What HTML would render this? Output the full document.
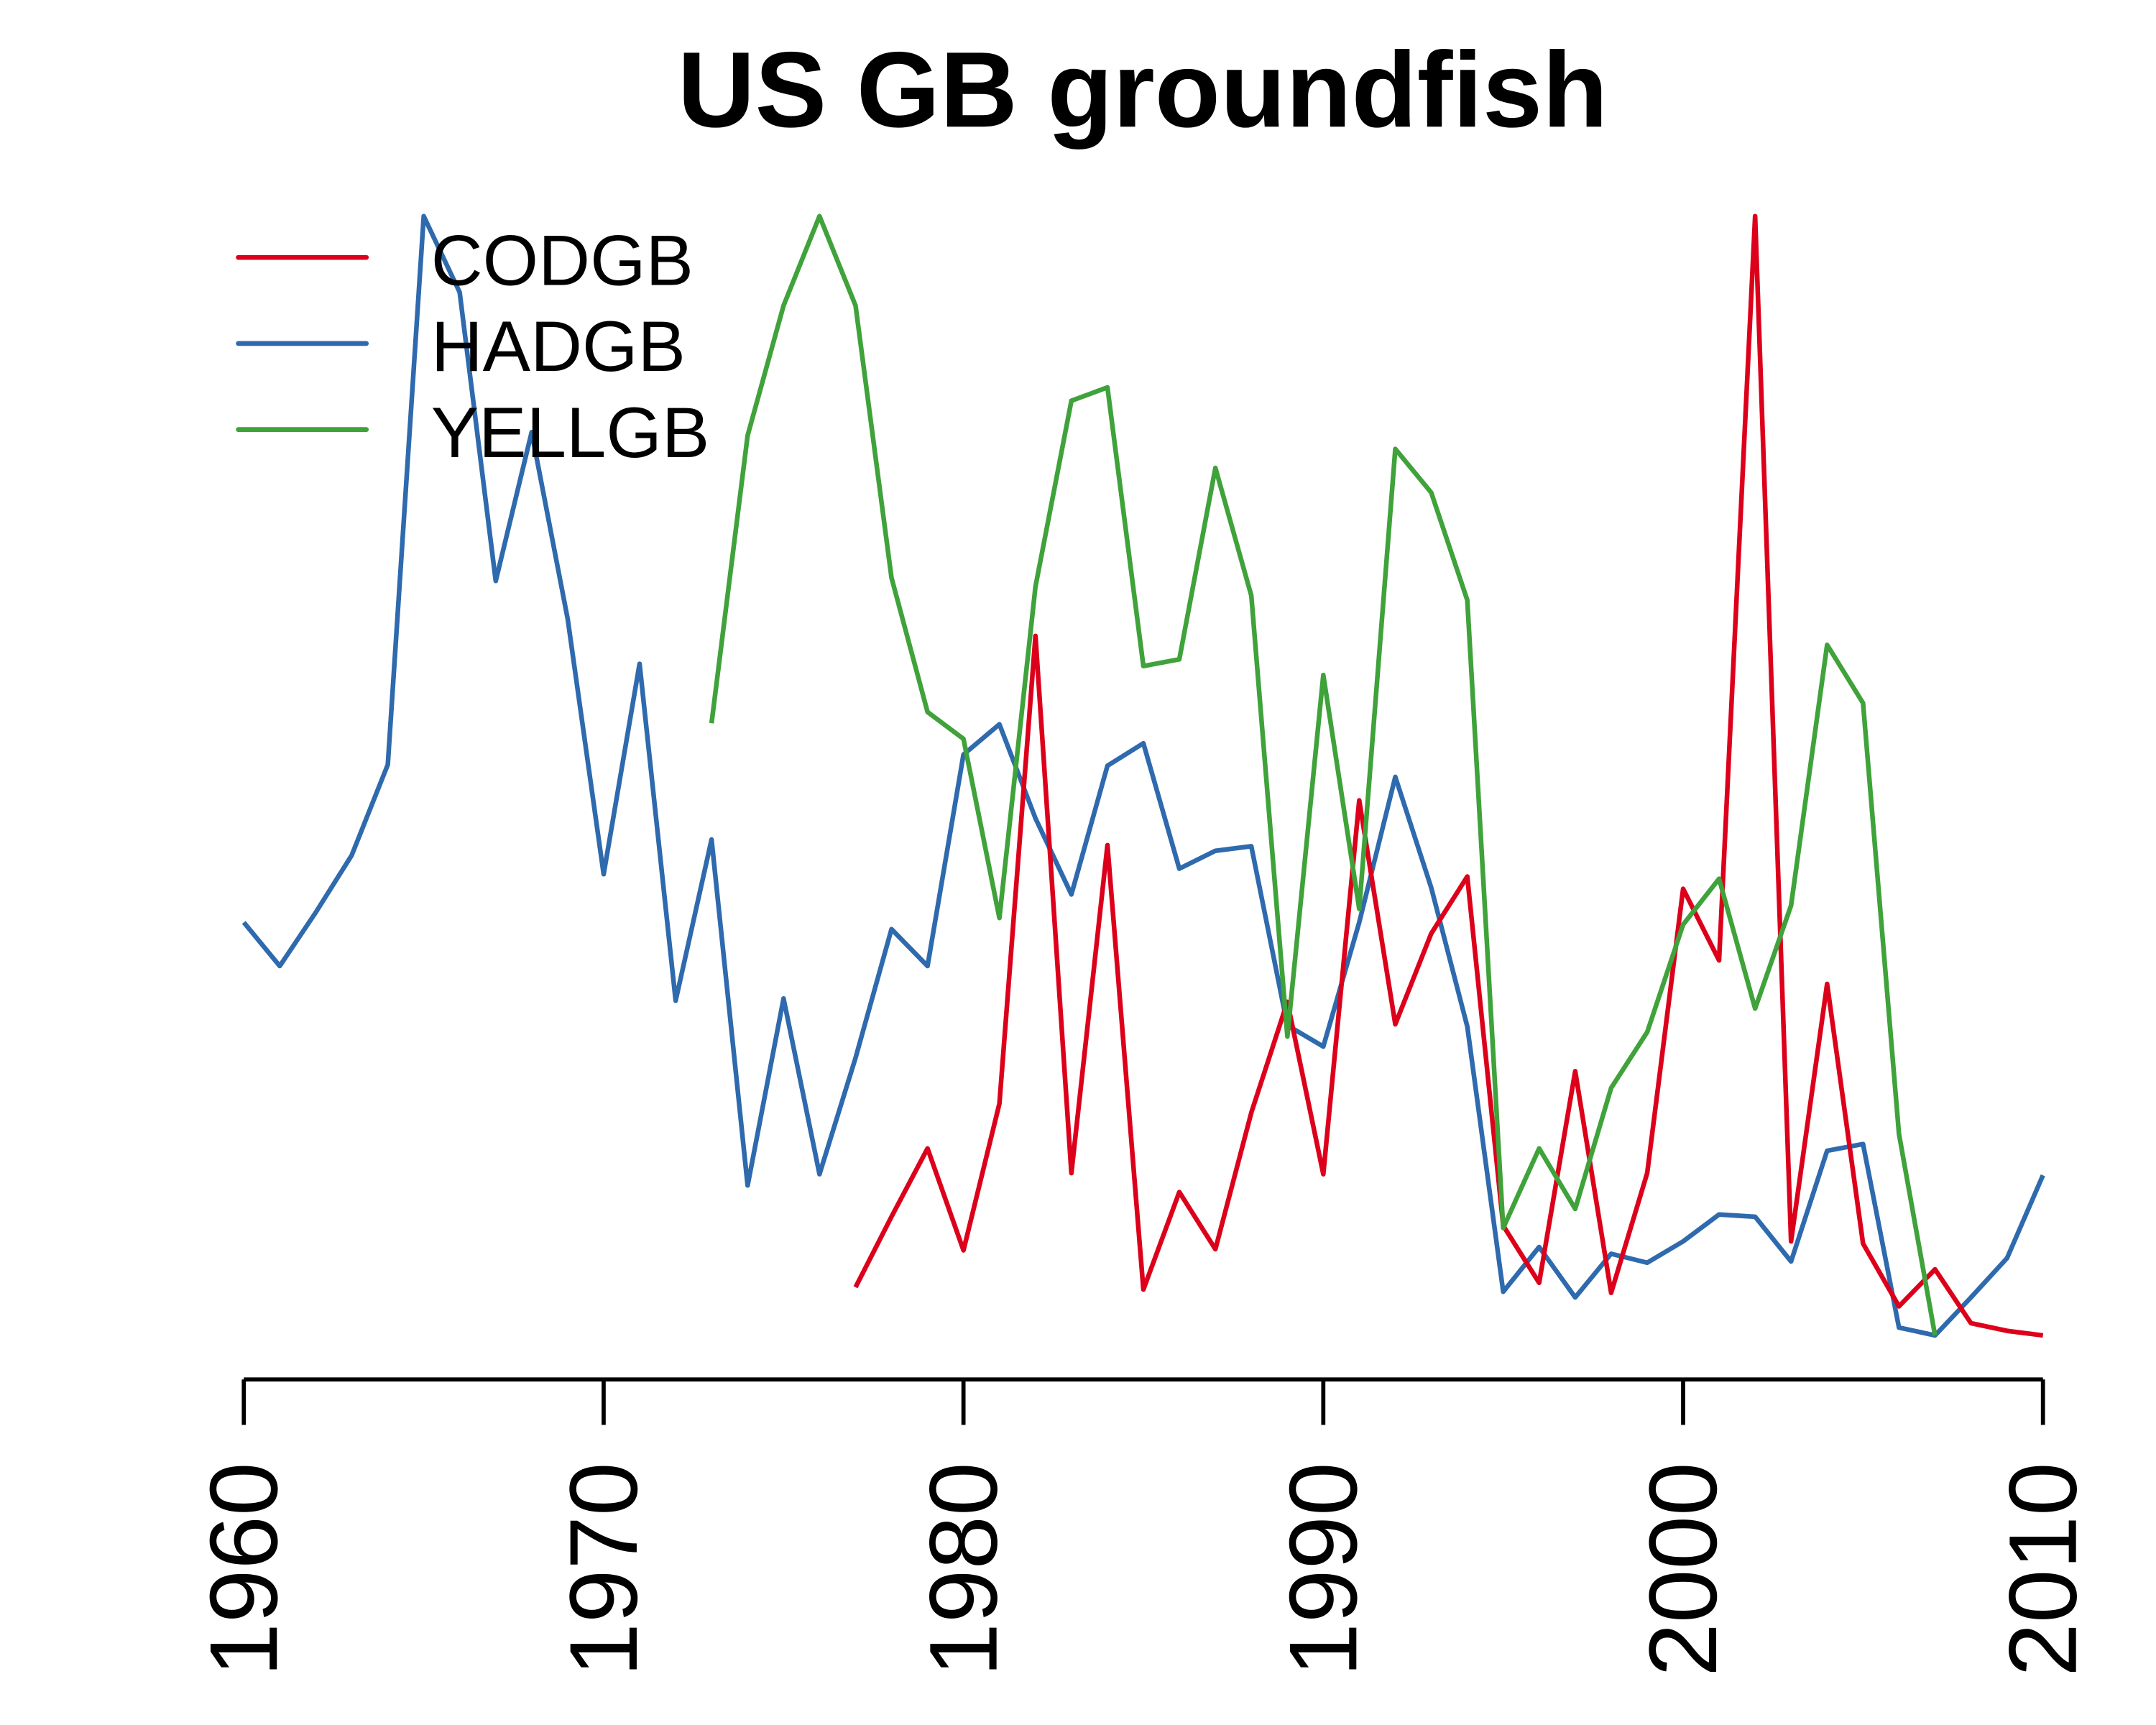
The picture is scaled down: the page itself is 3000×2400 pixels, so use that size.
<!DOCTYPE html>
<html><head><meta charset="utf-8"><style>
html,body{margin:0;padding:0;background:#fff;}
svg{display:block;font-family:"Liberation Sans",sans-serif;}
</style></head><body>
<svg id="chart" width="3000" height="2400" viewBox="0 0 1566 1253" xmlns="http://www.w3.org/2000/svg">
<text x="830" y="92" text-anchor="middle" font-size="78" font-weight="bold">US GB groundfish</text>
<g id="axis"></g>
<g id="series"></g>
<g id="legend"></g>
</svg>
<script>
const yearsHAD = [1960,1961,1962,1963,1964,1965,1966,1967,1968,1969,1970,1971,1972,1973,1974,1975,1976,1977,1978,1979,1980,1981,1982,1983,1984,1985,1986,1987,1988,1989,1990,1991,1992,1993,1994,1995,1996,1997,1998,1999,2000,2001,2002,2003,2004,2005,2006,2007,2008,2009,2010];
const hadgb = [36.9,33.0,37.8,42.9,51.0,100,93.2,67.4,80.7,64.0,41.2,60.0,29.9,44.3,13.4,30.1,14.4,24.8,36.3,33.0,51.9,54.6,46.2,39.4,50.9,52.9,41.7,43.3,43.7,27.7,25.8,36.9,49.9,40.0,27.6,3.9,7.9,3.4,7.3,6.5,8.4,10.8,10.6,6.6,16.5,17.1,0.7,0,3.4,6.9,14.3];
const yearsCOD = [1977,1978,1979,1980,1981,1982,1983,1984,1985,1986,1987,1988,1989,1990,1991,1992,1993,1994,1995,1996,1997,1998,1999,2000,2001,2002,2003,2004,2005,2006,2007,2008,2009,2010];
const codgb = [4.3,10.6,16.7,7.6,20.7,62.5,14.5,43.8,4.1,12.8,7.7,19.9,29.8,14.4,47.8,27.8,35.9,41.0,9.8,4.7,23.6,3.8,14.5,39.9,33.5,100,8.4,31.4,8.2,2.6,5.9,1.1,0.4,0];
const yearsYELL = [1973,1974,1975,1976,1977,1978,1979,1980,1981,1982,1983,1984,1985,1986,1987,1988,1989,1990,1991,1992,1993,1994,1995,1996,1997,1998,1999,2000,2001,2002,2003,2004,2005,2006,2007];
const yellgb = [54.7,80.4,92.0,100,92.0,67.7,55.7,53.3,37.3,66.9,83.5,84.7,59.8,60.4,77.5,66.1,26.7,59.0,38.1,79.2,75.3,65.7,9.6,16.7,11.3,22.1,27.1,36.7,40.8,29.2,38.4,61.7,56.5,18.0,0];
const tickYears = [1960,1970,1980,1990,2000,2010];
const legendLabels = ["CODGB","HADGB","YELLGB"];

const NS="http://www.w3.org/2000/svg";
function xs(yr){return 177+(yr-1960)*(1484-177)/50;}
function ys(v){return 970-v*(970-157)/100;}
function mk(tag,attrs,parent){const e=document.createElementNS(NS,tag);for(const k in attrs)e.setAttribute(k,attrs[k]);parent.appendChild(e);return e;}

const axis=document.getElementById('axis');
const al=mk('line',{x1:xs(1960),x2:xs(2010),y1:1002,y2:1002,stroke:'#000','stroke-width':3},axis);


tickYears.forEach(t=>{
  const tk=mk('line',{x1:xs(t),x2:xs(t),y1:1002,y2:1035,stroke:'#000','stroke-width':3},axis);
  
  
  const tx=mk('text',{x:0,y:0,'font-size':70,'text-anchor':'middle',transform:`translate(${xs(t)+24},1140) rotate(-90)`},axis);
  tx.textContent=t;
  
  
});

const series=document.getElementById('series');
function drawLine(years,vals,color,name){
  const d=vals.map((v,i)=>(i?'L':'M')+xs(years[i]).toFixed(1)+','+ys(v).toFixed(1)).join(' ');
  const p=mk('path',{d:d,fill:'none',stroke:color,'stroke-width':3.4,'stroke-linejoin':'round'},series);
  
  
}
drawLine(yearsHAD,hadgb,'#2e6aad','hadgb-line');
drawLine(yearsCOD,codgb,'#dc001b','codgb-line');
drawLine(yearsYELL,yellgb,'#3fa23a','yellgb-line');

const legend=document.getElementById('legend');
const lcolors=['#dc001b','#2e6aad','#3fa23a'];
legendLabels.forEach((lab,i)=>{
  const y=187+i*62.5;
  const ln=mk('line',{x1:173,x2:266,y1:y,y2:y,stroke:lcolors[i],'stroke-width':3.5,'stroke-linecap':'round'},legend);
  
  
  const tx=mk('text',{x:313,y:y+20,'font-size':52},legend);
  tx.textContent=lab;
  
  
});
</script>
</body></html>
